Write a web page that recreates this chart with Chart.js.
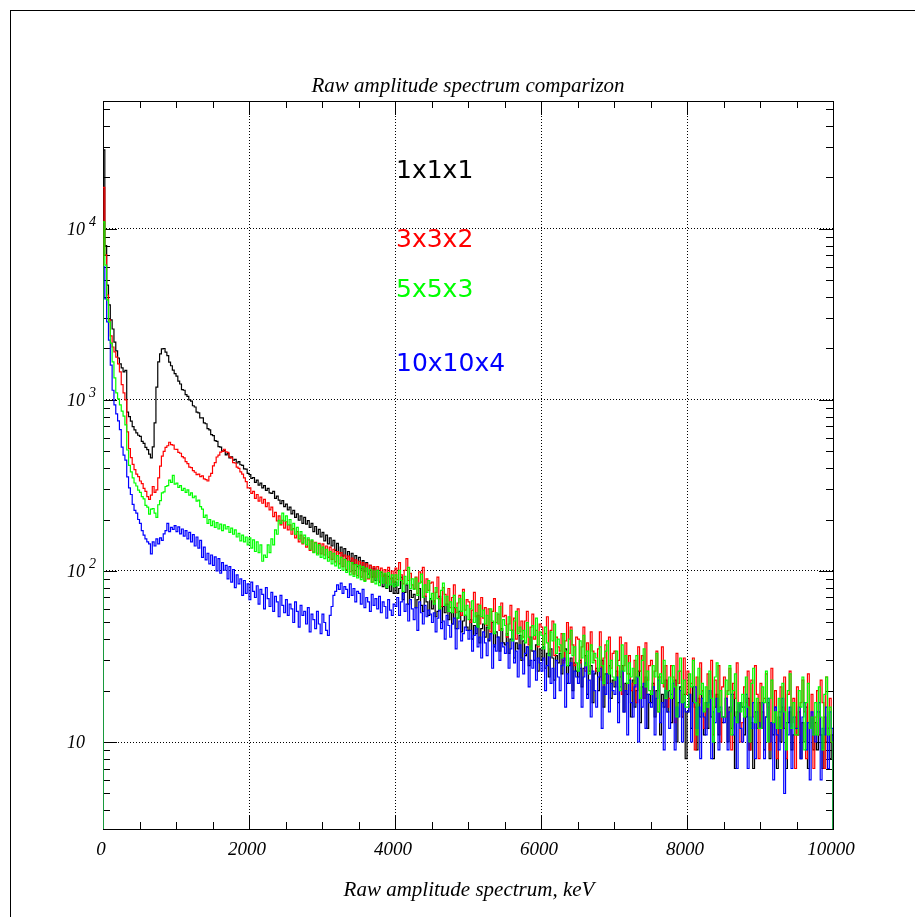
<!DOCTYPE html>
<html>
<head>
<meta charset="utf-8">
<script src="https://cdn.jsdelivr.net/npm/chart.js@4/dist/chart.umd.min.js"></script>
<style>
html,body{margin:0;padding:0;background:#fff;overflow:hidden}
#wrap{position:relative;width:915px;height:917px}
canvas{display:block}
</style>
</head>
<body>
<div id="wrap"><canvas id="c" width="915" height="917"></canvas></div>
<script>
// ---- data (counts per 25 keV bin) ----
const binWidth = 25;           // keV
const xRange = [0, 10000];     // keV
const yRange = [3.1, 56000];   // counts
const seriesNames = ['1x1x1', '3x3x2', '5x5x3', '10x10x4'];
const xTickLabels = ['0', '2000', '4000', '6000', '8000', '10000'];
const yDecadeTicks = [10, 100, 1000, 10000];
const yDecadeLabels = [['10', ''], ['10', '2'], ['10', '3'], ['10', '4']];

const counts1x1x1 = [
  29000, 8000, 4700, 3600, 2940, 2600, 2180, 1935, 1760, 1625,
  1540, 1460, 1490, 850, 800, 752, 698, 668, 642, 622,
  612, 572, 558, 528, 512, 482, 458, 532, 735, 1190,
  1670, 1860, 1990, 2000, 1905, 1815, 1665, 1585, 1495, 1425,
  1380, 1290, 1240, 1150, 1140, 1075, 1050, 1000, 985, 925,
  910, 850, 840, 785, 785, 735, 726, 680, 668, 628,
  618, 578, 572, 534, 530, 502, 506, 478, 486, 458,
  465, 445, 450, 428, 436, 418, 414, 396, 394, 372,
  366, 348, 352, 330, 340, 318, 326, 306, 316, 296,
  304, 286, 284, 292, 266, 274, 260, 248, 258, 238,
  246, 228, 236, 216, 226, 206, 216, 198, 210, 190,
  206, 188, 197, 180, 190, 170, 182, 164, 175, 158,
  168, 150, 162, 144, 156, 140, 151, 132, 145, 127,
  138, 122, 135, 118, 130, 114, 127, 110, 123, 106,
  120, 103, 115, 99, 112, 96, 108, 92, 104, 88,
  101, 86, 98, 81, 95, 79, 93, 76, 91, 74,
  86, 74, 79, 92, 68, 75, 83, 64, 77, 70,
  73, 61, 68, 79, 63, 58, 71, 66, 55, 69,
  60, 67, 54, 58, 71, 50, 62, 57, 64, 52,
  57, 49, 61, 46, 53, 58, 44, 51, 55, 47,
  45, 52, 40, 48, 43, 55, 38, 46, 49, 41,
  47, 39, 43, 50, 36, 44, 41, 34, 46, 38,
  37, 43, 33, 40, 45, 31, 38, 35, 42, 30,
  39, 32, 36, 28, 41, 34, 30, 37, 26, 35,
  30, 36, 27, 33, 24, 35, 31, 23, 32, 29,
  33, 25, 30, 35, 22, 28, 31, 20, 29, 26,
  24, 30, 21, 27, 32, 19, 26, 28, 17, 25,
  27, 20, 24, 30, 16, 25, 22, 28, 18, 23,
  21, 26, 17, 24, 28, 15, 22, 19, 25, 14,
  23, 16, 20, 26, 13, 21, 18, 24, 12, 19,
  17, 22, 14, 20, 24, 11, 19, 16, 23, 15,
  20, 13, 18, 23, 10, 17, 21, 14, 19, 8,
  15, 19, 12, 21, 16, 9, 18, 14, 20, 11,
  17, 12, 20, 14, 8, 16, 19, 11, 15, 13,
  14, 18, 10, 16, 12, 19, 7, 15, 13, 17,
  16, 11, 14, 18, 9, 13, 7, 15, 12, 17,
  12, 15, 9, 14, 17, 8, 13, 11, 16, 7,
  14, 10, 16, 12, 7, 13, 15, 9, 11, 14,
  11, 15, 8, 13, 10, 16, 7, 12, 14, 9,
  13, 9, 15, 11, 7, 14, 10, 12, 8, 11
];
const counts3x3x2 = [
  17500, 7050, 4110, 2940, 2370, 2040, 1910, 1780, 1625, 1460,
  1230, 1100, 1000, 650, 520, 460, 420, 392, 368, 356,
  336, 324, 304, 292, 272, 262, 278, 312, 288, 298,
  350, 410, 470, 500, 528, 540, 566, 548, 545, 515,
  514, 494, 488, 466, 458, 436, 424, 405, 402, 386,
  378, 366, 368, 356, 360, 346, 342, 336, 358, 372,
  412, 430, 464, 476, 495, 500, 515, 498, 494, 465,
  458, 430, 428, 405, 398, 380, 368, 350, 333, 306,
  306, 284, 292, 266, 280, 256, 270, 249, 262, 238,
  250, 228, 236, 208, 220, 196, 210, 186, 198, 178,
  194, 174, 186, 164, 177, 156, 170, 148, 162, 144,
  156, 138, 152, 132, 150, 129, 147, 127, 145, 126,
  144, 124, 140, 120, 138, 117, 134, 113, 130, 110,
  128, 106, 124, 102, 122, 99, 119, 96, 116, 94,
  114, 92, 112, 88, 110, 90, 108, 86, 106, 92,
  106, 87, 104, 93, 102, 85, 105, 90, 100, 86,
  104, 89, 112, 95, 84, 101, 118, 88, 97, 83,
  79, 92, 74, 99, 86, 105, 71, 90, 77, 85,
  86, 66, 75, 92, 69, 62, 80, 73, 64, 79,
  61, 70, 83, 57, 65, 72, 55, 78, 59, 68,
  66, 50, 59, 75, 54, 64, 49, 70, 53, 61,
  48, 60, 44, 58, 69, 50, 56, 45, 65, 54,
  55, 41, 49, 63, 45, 53, 40, 60, 44, 51,
  41, 51, 58, 37, 47, 56, 40, 45, 36, 49,
  47, 37, 43, 54, 33, 45, 51, 32, 41, 36,
  34, 43, 29, 39, 50, 33, 47, 37, 28, 41,
  40, 29, 36, 47, 26, 38, 25, 44, 34, 30,
  26, 35, 44, 23, 31, 37, 22, 41, 27, 33,
  34, 24, 30, 41, 19, 28, 38, 25, 32, 20,
  22, 30, 17, 36, 26, 32, 18, 38, 23, 28,
  30, 20, 26, 34, 15, 24, 36, 21, 28, 16,
  18, 28, 24, 13, 33, 22, 26, 14, 31, 19,
  26, 16, 22, 31, 9, 24, 17, 29, 20, 12,
  15, 25, 19, 30, 11, 23, 16, 28, 10, 21,
  24, 14, 20, 27, 9, 22, 18, 29, 15, 10,
  13, 21, 17, 26, 9, 23, 14, 28, 19, 8,
  22, 12, 18, 25, 16, 9, 27, 13, 20, 8,
  15, 21, 12, 24, 8, 19, 26, 13, 18, 7,
  21, 11, 17, 23, 15, 8, 25, 12, 19, 7,
  14, 20, 11, 23, 17, 7, 24, 12, 18, 10
];
const counts5x5x3 = [
  11000, 6150, 3850, 2860, 2150, 1670, 1345, 1100, 1015, 935,
  860, 805, 715, 510, 415, 380, 350, 327, 314, 297,
  288, 272, 264, 242, 236, 215, 230, 232, 218, 206,
  244, 258, 286, 290, 312, 316, 340, 330, 362, 322,
  326, 308, 316, 296, 304, 288, 298, 278, 286, 268,
  274, 256, 260, 238, 230, 206, 212, 190, 200, 184,
  196, 180, 192, 176, 188, 172, 186, 176, 182, 168,
  178, 164, 174, 158, 166, 150, 162, 148, 158, 142,
  156, 136, 152, 130, 148, 128, 142, 114, 124, 120,
  142, 128, 154, 142, 174, 164, 198, 190, 218, 196,
  210, 186, 200, 174, 190, 164, 180, 154, 170, 146,
  162, 142, 156, 134, 152, 128, 146, 124, 142, 120,
  138, 118, 134, 114, 130, 110, 127, 107, 123, 104,
  120, 101, 117, 98, 114, 95, 112, 93, 109, 91,
  108, 89, 106, 87, 104, 91, 102, 86, 100, 84,
  101, 82, 99, 85, 97, 80, 98, 83, 95, 81,
  95, 82, 101, 88, 76, 93, 84, 105, 79, 90,
  78, 91, 72, 85, 96, 70, 83, 75, 88, 68,
  74, 64, 80, 69, 60, 77, 85, 63, 71, 58,
  66, 57, 72, 61, 53, 69, 58, 75, 55, 63,
  52, 60, 67, 50, 57, 47, 63, 54, 59, 49,
  55, 46, 60, 51, 43, 57, 49, 62, 45, 52,
  48, 42, 54, 45, 39, 51, 58, 43, 47, 40,
  45, 38, 50, 41, 35, 48, 42, 53, 37, 44,
  42, 35, 47, 38, 32, 44, 39, 49, 33, 40,
  37, 31, 43, 34, 28, 40, 45, 32, 36, 29,
  26, 39, 31, 42, 28, 34, 25, 37, 29, 33,
  31, 26, 36, 28, 22, 34, 39, 25, 30, 24,
  23, 34, 28, 20, 37, 26, 32, 22, 29, 24,
  27, 22, 32, 24, 18, 30, 35, 21, 26, 20,
  19, 28, 24, 33, 15, 25, 22, 30, 18, 20,
  24, 18, 28, 21, 14, 26, 31, 17, 23, 16,
  16, 25, 21, 30, 17, 11, 27, 19, 22, 15,
  21, 16, 26, 18, 10, 24, 29, 15, 20, 14,
  14, 23, 19, 28, 11, 20, 25, 13, 17, 15,
  19, 14, 24, 16, 10, 22, 27, 13, 18, 12,
  12, 21, 17, 26, 10, 18, 23, 13, 15, 12,
  18, 12, 22, 15, 9, 20, 25, 12, 17, 11,
  11, 20, 16, 24, 9, 17, 22, 12, 14, 11,
  17, 11, 21, 14, 9, 19, 24, 11, 16, 10
];
const counts10x10x4 = [
  6000, 3900, 2860, 2240, 1600, 1140, 935, 830, 755, 670,
  530, 476, 445, 355, 306, 280, 245, 226, 218, 200,
  190, 172, 162, 154, 148, 144, 126, 148, 140, 154,
  144, 156, 151, 165, 172, 190, 170, 180, 175, 184,
  170, 181, 165, 176, 160, 172, 154, 168, 148, 163,
  140, 158, 136, 151, 120, 138, 116, 127, 110, 124,
  108, 121, 100, 118, 97, 112, 101, 108, 90, 106,
  86, 102, 80, 95, 84, 90, 72, 88, 74, 84,
  68, 86, 76, 70, 82, 64, 78, 73, 60, 80,
  69, 62, 75, 58, 71, 66, 54, 72, 63, 57,
  68, 55, 64, 60, 50, 66, 58, 47, 63, 55,
  58, 49, 61, 44, 56, 52, 46, 58, 49, 43,
  56, 50, 45, 42, 55, 62, 72, 76, 83, 78,
  85, 74, 81, 78, 70, 84, 72, 79, 66, 76,
  74, 64, 78, 61, 70, 66, 58, 73, 63, 69,
  60, 71, 57, 66, 62, 53, 68, 59, 55, 64,
  62, 70, 55, 66, 74, 58, 64, 51, 68, 60,
  52, 61, 45, 66, 57, 49, 63, 54, 59, 56,
  50, 57, 44, 53, 59, 46, 51, 40, 55, 48,
  41, 49, 53, 35, 46, 51, 39, 43, 47, 45,
  40, 45, 34, 42, 47, 36, 41, 31, 44, 38,
  32, 40, 43, 27, 37, 34, 41, 30, 38, 36,
  33, 38, 27, 35, 40, 29, 34, 24, 37, 31,
  25, 33, 36, 21, 30, 27, 34, 23, 31, 29,
  26, 31, 20, 28, 33, 22, 27, 18, 30, 24,
  20, 28, 31, 16, 25, 22, 29, 18, 26, 24,
  22, 27, 16, 24, 29, 18, 23, 14, 26, 20,
  16, 24, 27, 12, 21, 19, 25, 15, 22, 20,
  19, 24, 13, 21, 26, 15, 20, 11, 23, 17,
  14, 21, 24, 10, 18, 16, 22, 12, 19, 17,
  16, 21, 11, 18, 23, 13, 17, 9, 20, 15,
  12, 19, 22, 9, 16, 14, 20, 10, 17, 15,
  15, 19, 10, 17, 21, 12, 16, 8, 18, 14,
  11, 17, 20, 8, 15, 13, 18, 9, 16, 14,
  13, 18, 9, 15, 19, 11, 14, 7, 17, 12,
  10, 16, 19, 7, 14, 12, 17, 8, 15, 13,
  12, 17, 8, 14, 18, 10, 13, 6, 16, 11,
  9, 15, 18, 5, 13, 11, 16, 7, 14, 12,
  12, 16, 8, 14, 17, 9, 13, 6, 15, 11,
  10, 15, 17, 6, 12, 11, 16, 7, 15, 12
];

// ---- styling ----
const colors = { '1x1x1': '#000000', '3x3x2': '#ff0000', '5x5x3': '#00ff00', '10x10x4': '#0000ff' };
const drawOrder = { '1x1x1': 3, '3x3x2': 2, '10x10x4': 1, '5x5x3': 0 };
const allCounts = { '1x1x1': counts1x1x1, '3x3x2': counts3x3x2, '5x5x3': counts5x5x3, '10x10x4': counts10x10x4 };
const floorValue = 1;

function histogramPoints(counts) {
  const pts = [{ x: 0, y: floorValue }];
  counts.forEach((c, i) => pts.push({ x: i * binWidth, y: c }));
  const end = counts.length * binWidth;
  pts.push({ x: end, y: counts[counts.length - 1] });
  pts.push({ x: end, y: floorValue });
  return pts;
}

const serif = '"Liberation Serif", "Times New Roman", serif';
const sans = '"DejaVu Sans", "Liberation Sans", sans-serif';

const rootPlugin = {
  id: 'rootStyle',
  beforeDatasetsDraw(chart) {
    const { ctx, chartArea: a, scales: { x, y } } = chart;
    ctx.save();
    ctx.strokeStyle = '#000';
    ctx.lineWidth = 1;
    ctx.strokeRect(10.5, 10.5, 2000, 2000);
    ctx.strokeRect(Math.round(a.left) + 0.5, Math.round(a.top) + 0.5,
                   Math.round(a.right - a.left), Math.round(a.bottom - a.top));
    ctx.beginPath();
    for (let v = xRange[0]; v <= xRange[1]; v += 500) {
      const px = Math.round(x.getPixelForValue(v)) + 0.5;
      const len = v % 2000 === 0 ? 14 : 7;
      ctx.moveTo(px, a.bottom); ctx.lineTo(px, a.bottom - len);
      ctx.moveTo(px, a.top); ctx.lineTo(px, a.top + len);
    }
    for (let d = 0; d <= 4; d++) {
      for (let m = 1; m <= 9; m++) {
        const v = m * Math.pow(10, d);
        if (v < yRange[0] || v > yRange[1]) continue;
        const py = Math.round(y.getPixelForValue(v)) + 0.5;
        const len = m === 1 ? 14 : 7;
        ctx.moveTo(a.left, py); ctx.lineTo(a.left + len, py);
        ctx.moveTo(a.right, py); ctx.lineTo(a.right - len, py);
      }
    }
    ctx.stroke();
    ctx.restore();
  },
  afterDraw(chart) {
    const { ctx, scales: { x, y } } = chart;
    ctx.save();
    ctx.fillStyle = '#000';
    ctx.textBaseline = 'alphabetic';
    ctx.textAlign = 'center';
    ctx.font = 'italic 21px ' + serif;
    ctx.fillText('Raw amplitude spectrum comparizon', 468, 92);
    ctx.font = 'italic 19px ' + serif;
    xTickLabels.forEach(t => {
      ctx.fillText(t, x.getPixelForValue(Number(t)) - 2, 855);
    });
    ctx.font = 'italic 21px ' + serif;
    ctx.fillText('Raw amplitude spectrum, keV', 469, 896);
    yDecadeTicks.forEach((v, i) => {
      const py = y.getPixelForValue(v);
      const [base, exp] = yDecadeLabels[i];
      ctx.font = 'italic 18px ' + serif;
      ctx.textAlign = 'right';
      ctx.fillText(base, 85, py + 6);
      if (exp) {
        ctx.font = 'italic 14px ' + serif;
        ctx.textAlign = 'left';
        ctx.fillText(exp, 89, py - 3);
      }
    });
    ctx.font = '25px ' + sans;
    ctx.textAlign = 'left';
    const labelBaselines = [178, 247, 297, 371];
    seriesNames.forEach((n, i) => {
      ctx.fillStyle = colors[n];
      ctx.fillText(n, 396, labelBaselines[i]);
    });
    ctx.restore();
  }
};

new Chart(document.getElementById('c'), {
  type: 'line',
  data: {
    datasets: seriesNames.map(n => ({
      label: n,
      data: histogramPoints(allCounts[n]),
      borderColor: colors[n],
      backgroundColor: colors[n],
      borderWidth: 1.2,
      pointRadius: 0,
      stepped: 'before',
      fill: false,
      order: drawOrder[n]
    }))
  },
  options: {
    responsive: false,
    devicePixelRatio: 1,
    animation: false,
    events: [],
    layout: { padding: { left: 103, right: 82, top: 101, bottom: 88 } },
    plugins: { legend: { display: false }, title: { display: false }, tooltip: { enabled: false } },
    scales: {
      x: {
        type: 'linear',
        min: xRange[0], max: xRange[1],
        ticks: { display: false, stepSize: 2000 },
        grid: {
          drawTicks: false,
          lineWidth: 1,
          color: c => (c.tick && (c.tick.value <= xRange[0] || c.tick.value >= xRange[1])) ? 'rgba(0,0,0,0)' : '#000'
        },
        border: { display: false, dash: [1, 2] },
        afterFit: s => { s.height = 0; }
      },
      y: {
        type: 'logarithmic',
        min: yRange[0], max: yRange[1],
        ticks: { display: false },
        afterBuildTicks: s => { s.ticks = yDecadeTicks.map(v => ({ value: v })); },
        grid: { drawTicks: false, lineWidth: 1, color: '#000' },
        border: { display: false, dash: [1, 2] },
        afterFit: s => { s.width = 0; }
      }
    }
  },
  plugins: [rootPlugin]
});
</script>
</body>
</html>
